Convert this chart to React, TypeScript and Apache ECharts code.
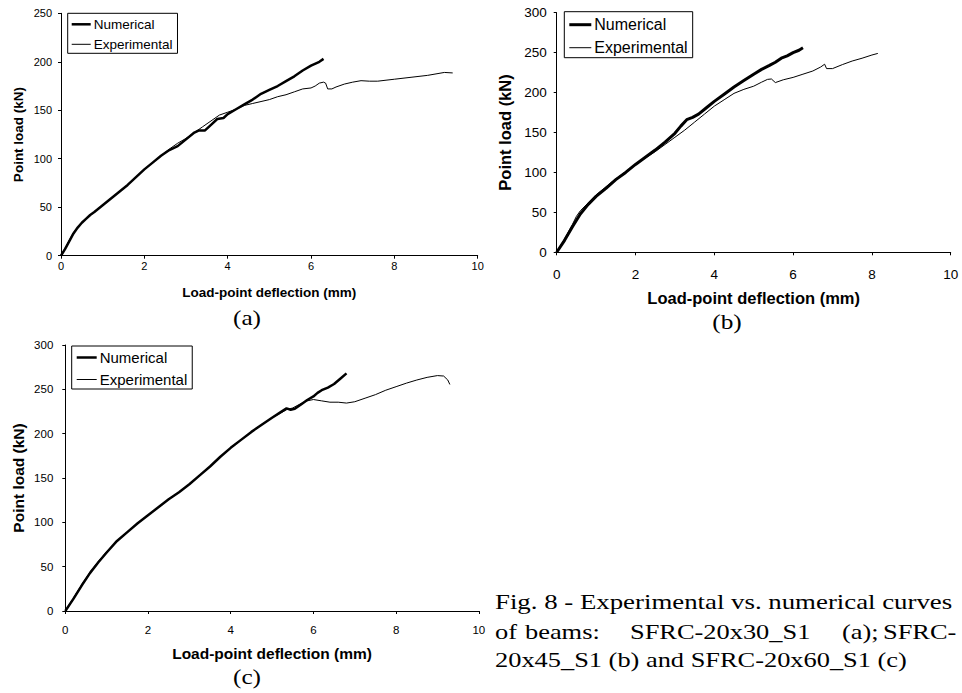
import React, { useEffect, useRef } from "react";
import * as echarts from "echarts";

const seriesNames = ["Numerical", "Experimental"];
const xTitle = "Load-point deflection (mm)";
const yTitle = "Point load (kN)";
const panelLabels = ["(a)", "(b)", "(c)"];
const captionLine1 = "Fig. 8 - Experimental vs. numerical curves";
const captionLine2Words = ["of", "beams:", "SFRC-20x30_S1", "(a);", "SFRC-"];
const captionLine3 = "20x45_S1 (b) and SFRC-20x60_S1 (c)";

const xMax = 10;
const xInterval = 2;
const yMaxA = 250;
const yMaxB = 300;
const yMaxC = 300;
const yInterval = 50;

// (a) SFRC-20x30_S1
const numericalA: [number, number][] = [
  [0, 0], [0.1, 7], [0.2, 15], [0.3, 23], [0.4, 29], [0.5, 34], [0.6, 38], [0.7, 42], [0.8, 45],
  [1.0, 52], [1.2, 59], [1.4, 66], [1.6, 73], [1.8, 81], [2.0, 89], [2.2, 96], [2.4, 103],
  [2.6, 109], [2.8, 113], [3.0, 120], [3.2, 127], [3.3, 129], [3.45, 129], [3.6, 135],
  [3.75, 141], [3.9, 142], [4.0, 146], [4.2, 151], [4.4, 156], [4.6, 161], [4.8, 167],
  [5.0, 171], [5.2, 175], [5.4, 180], [5.6, 185], [5.8, 191], [6.0, 196], [6.2, 200], [6.3, 203],
];
const experimentalA: [number, number][] = [
  [0, 0], [0.1, 8], [0.2, 16], [0.3, 24], [0.4, 29], [0.5, 34], [0.6, 38], [0.8, 45],
  [1.0, 52], [1.2, 59], [1.4, 66], [1.6, 73], [1.8, 81], [2.0, 89], [2.2, 96], [2.4, 103],
  [2.6, 110], [2.8, 116], [3.0, 121], [3.2, 127], [3.4, 133], [3.6, 139], [3.8, 145],
  [4.0, 148], [4.2, 151], [4.4, 155], [4.6, 157], [4.8, 159], [5.0, 161], [5.2, 164],
  [5.4, 166], [5.6, 169], [5.8, 172], [6.0, 173], [6.1, 175], [6.2, 178], [6.3, 179],
  [6.35, 178], [6.4, 172], [6.5, 172], [6.6, 174], [6.8, 177], [7.0, 179], [7.2, 180.5],
  [7.4, 180], [7.6, 180], [7.8, 181], [8.0, 182], [8.4, 184], [8.8, 186], [9.2, 189], [9.4, 188.5],
];

// (b) SFRC-20x45_S1
const numericalB: [number, number][] = [
  [0, 0], [0.2, 15], [0.4, 32], [0.6, 48], [0.8, 60], [1.0, 70], [1.25, 80], [1.5, 91],
  [1.75, 100], [2.0, 110], [2.25, 119], [2.5, 128], [2.75, 138], [3.0, 149], [3.15, 158],
  [3.3, 166], [3.45, 169], [3.6, 173], [3.8, 181], [4.0, 189], [4.25, 198], [4.5, 207],
  [4.75, 215], [5.0, 223], [5.2, 229], [5.4, 234], [5.55, 238], [5.7, 243], [5.85, 246],
  [6.0, 250], [6.15, 253], [6.25, 256],
];
const experimentalB: [number, number][] = [
  [0, 0], [0.2, 17], [0.4, 35], [0.5, 45], [0.6, 52], [0.8, 62], [1.0, 72], [1.25, 82],
  [1.5, 92], [1.75, 101], [2.0, 110], [2.25, 118], [2.5, 126], [2.75, 135], [3.0, 144],
  [3.25, 153], [3.5, 163], [3.75, 173], [4.0, 183], [4.25, 191], [4.5, 199], [4.75, 204],
  [5.0, 208], [5.2, 213], [5.35, 216.5], [5.45, 217], [5.55, 212.5], [5.75, 216], [6.0, 219],
  [6.25, 223], [6.5, 227], [6.7, 232], [6.8, 235.5], [6.85, 230], [7.0, 230], [7.25, 235],
  [7.5, 239.5], [7.75, 243], [8.0, 247], [8.15, 249],
];

// (c) SFRC-20x60_S1
const numericalC: [number, number][] = [
  [0, 0], [0.2, 14], [0.4, 29], [0.6, 43], [0.8, 55], [1.0, 66], [1.25, 79], [1.5, 89],
  [1.75, 99], [2.0, 108], [2.25, 117], [2.5, 126], [2.75, 134], [3.0, 143], [3.25, 153],
  [3.5, 163], [3.75, 174], [4.0, 184], [4.25, 193], [4.5, 202], [4.75, 210], [5.0, 218],
  [5.2, 224], [5.35, 228.5], [5.45, 227], [5.55, 228], [5.7, 233], [5.85, 238], [6.0, 242],
  [6.1, 246], [6.2, 249], [6.35, 252], [6.5, 256], [6.65, 262], [6.8, 268],
];
const experimentalC: [number, number][] = [
  [0, 0], [0.2, 15], [0.4, 30], [0.6, 44], [0.8, 56], [1.0, 67], [1.25, 79], [1.5, 89],
  [1.75, 99], [2.0, 108], [2.25, 117], [2.5, 126], [2.75, 134], [3.0, 143], [3.25, 153],
  [3.5, 163], [3.75, 174], [4.0, 184], [4.25, 193], [4.5, 202], [4.75, 210], [5.0, 218],
  [5.2, 223], [5.35, 227], [5.5, 229], [5.7, 234], [5.85, 237], [6.0, 238.5], [6.2, 237],
  [6.4, 235.5], [6.6, 235.5], [6.8, 234.5], [7.0, 236], [7.25, 240], [7.5, 244], [7.75, 249],
  [8.0, 253], [8.25, 257], [8.5, 260.5], [8.75, 263.5], [9.0, 265.5], [9.15, 265],
  [9.25, 260.5], [9.3, 255.5],
];

const SANS = "'Liberation Sans', Arial, sans-serif";
const SERIF = "'Liberation Serif', 'Times New Roman', serif";

type Panel = {
  grid: { left: number; top: number; width: number; height: number };
  yMax: number;
  tickFont: number;
  titleFont: number;
  xLabelMargin: number;
  yLabelMargin: number;
  xNameGap: number;
  yNameGap: number;
  legend: { left: number; top: number; font: number; itemWidth: number; itemHeight: number; itemGap: number; padding: number[] };
  thick: number;
  num: [number, number][];
  exp: [number, number][];
};

const panels: Panel[] = [
  {
    grid: { left: 61, top: 13.3, width: 416.7, height: 242.4 },
    yMax: yMaxA,
    tickFont: 11,
    titleFont: 13.5,
    xLabelMargin: 5,
    yLabelMargin: 9,
    xNameGap: 30,
    yNameGap: 36,
    legend: { left: 67.7, top: 13.3, font: 13.5, itemWidth: 19, itemHeight: 14, itemGap: 6, padding: [4, 5, 2, 4] },
    thick: 2.5,
    num: numericalA,
    exp: experimentalA,
  },
  {
    grid: { left: 556.7, top: 12.7, width: 394, height: 239.6 },
    yMax: yMaxB,
    tickFont: 13.5,
    titleFont: 16.5,
    xLabelMargin: 15,
    yLabelMargin: 10,
    xNameGap: 37,
    yNameGap: 43,
    legend: { left: 564.3, top: 11.7, font: 16, itemWidth: 22, itemHeight: 16, itemGap: 7, padding: [5, 5, 2, 5] },
    thick: 3,
    num: numericalB,
    exp: experimentalB,
  },
  {
    grid: { left: 65.3, top: 345, width: 413.5, height: 266 },
    yMax: yMaxC,
    tickFont: 11.5,
    titleFont: 15.5,
    xLabelMargin: 13,
    yLabelMargin: 12,
    xNameGap: 34,
    yNameGap: 39,
    legend: { left: 71.7, top: 346, font: 15, itemWidth: 20, itemHeight: 15, itemGap: 7, padding: [4, 5, 2, 5] },
    thick: 2.5,
    num: numericalC,
    exp: experimentalC,
  },
];

// thin horizontal bar used as legend icon: width w, thickness t
const barIcon = (w: number, t: number) => `path://M0,0H${w}V${t}H0Z`;

export default function App() {
  const ref = useRef<HTMLDivElement>(null);
  useEffect(() => {
    if (!ref.current) return;
    const chart = echarts.init(ref.current, undefined, { renderer: "svg" });

    const grid = panels.map((p) => ({ ...p.grid, containLabel: false }));
    const xAxis = panels.map((p, i) => ({
      type: "value",
      gridIndex: i,
      min: 0,
      max: xMax,
      interval: xInterval,
      name: xTitle,
      nameLocation: "middle",
      nameGap: p.xNameGap,
      nameTextStyle: { fontFamily: SANS, fontWeight: "bold", fontSize: p.titleFont, color: "#000" },
      axisLine: { show: true, lineStyle: { color: "#000", width: 1 } },
      axisTick: { show: true, length: 3, lineStyle: { color: "#000" } },
      axisLabel: { fontFamily: SANS, fontSize: p.tickFont, color: "#000", margin: p.xLabelMargin, showMaxLabel: true },
      splitLine: { show: false },
    }));
    const yAxis = panels.map((p, i) => ({
      type: "value",
      gridIndex: i,
      min: 0,
      max: p.yMax,
      interval: yInterval,
      name: yTitle,
      nameLocation: "middle",
      nameGap: p.yNameGap,
      nameTextStyle: { fontFamily: SANS, fontWeight: "bold", fontSize: p.titleFont, color: "#000" },
      axisLine: { show: true, lineStyle: { color: "#000", width: 1 } },
      axisTick: { show: true, length: 3, lineStyle: { color: "#000" } },
      axisLabel: { fontFamily: SANS, fontSize: p.tickFont, color: "#000", margin: p.yLabelMargin },
      splitLine: { show: false },
    }));
    const series: any[] = [];
    panels.forEach((p, i) => {
      series.push({
        type: "line",
        name: seriesNames[0],
        xAxisIndex: i,
        yAxisIndex: i,
        data: p.num,
        symbol: "none",
        showSymbol: false,
        lineStyle: { color: "#000", width: p.thick },
        itemStyle: { color: "#000" },
        z: 3,
      });
      series.push({
        type: "line",
        name: seriesNames[1],
        xAxisIndex: i,
        yAxisIndex: i,
        data: p.exp,
        symbol: "none",
        showSymbol: false,
        lineStyle: { color: "#000", width: 1 },
        itemStyle: { color: "#000" },
        z: 2,
      });
    });
    const legend = panels.map((p) => ({
      data: [
        { name: seriesNames[0], icon: barIcon(p.legend.itemWidth, p.thick), itemStyle: { color: "#000", borderWidth: 0 } },
        { name: seriesNames[1], icon: barIcon(p.legend.itemWidth, 1), itemStyle: { color: "#000", borderWidth: 0 } },
      ],
      orient: "vertical",
      left: p.legend.left,
      top: p.legend.top,
      padding: p.legend.padding,
      itemWidth: p.legend.itemWidth,
      itemHeight: p.legend.itemHeight,
      itemGap: p.legend.itemGap,
      symbolKeepAspect: true,
      borderColor: "#000",
      borderWidth: 1,
      borderRadius: 0,
      backgroundColor: "#fff",
      selectedMode: false,
      textStyle: { fontFamily: SANS, fontSize: p.legend.font, color: "#000", padding: [0, 0, 0, -2] },
    }));

    const labelStyle = (text: string) => ({ text, fontFamily: SERIF, fontSize: 22, fill: "#000", align: "center", verticalAlign: "middle" });
    const capStyle = (text: string) => ({ text, fontFamily: SERIF, fontSize: 22, fill: "#000", align: "left", verticalAlign: "middle" });
    const word2X = [495, 525, 630, 842, 883];

    const graphic: any[] = [
      { type: "text", x: 247, y: 318, scaleX: 1.15, style: labelStyle(panelLabels[0]) },
      { type: "text", x: 727, y: 322, scaleX: 1.15, style: labelStyle(panelLabels[1]) },
      { type: "text", x: 247, y: 677, scaleX: 1.15, style: labelStyle(panelLabels[2]) },
      { type: "text", x: 495, y: 601, scaleX: 1.22, style: capStyle(captionLine1) },
      ...captionLine2Words.map((w, k) => ({ type: "text", x: word2X[k], y: 631, scaleX: 1.2, style: capStyle(w) })),
      { type: "text", x: 495, y: 659, scaleX: 1.2, style: capStyle(captionLine3) },
    ];

    chart.setOption({
      animation: false,
      backgroundColor: "#fff",
      grid,
      xAxis,
      yAxis,
      series,
      legend,
      graphic,
    });
    return () => chart.dispose();
  }, []);
  return (
    <div
      ref={ref}
      style={{ position: "absolute", left: 0, top: 0, width: 962, height: 693, background: "#fff" }}
    />
  );
}
